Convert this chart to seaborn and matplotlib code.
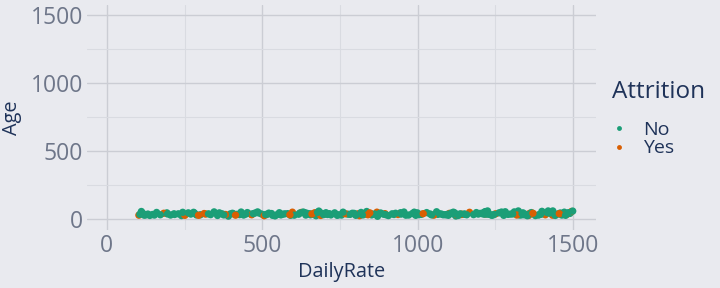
import matplotlib
matplotlib.use("Agg")
import matplotlib.pyplot as plt
from matplotlib.lines import Line2D
from matplotlib.ticker import FixedLocator
import seaborn as sns
import pandas as pd

daily_rate = [
    1102, 279, 1373, 1392, 591, 1005, 1324, 1358, 216, 1299, 809, 153, 670, 1346, 103, 1389,
    334, 1123, 1219, 371, 673, 1218, 419, 391, 699, 1282, 1125, 691, 477, 705, 924, 1459,
    125, 895, 813, 1273, 869, 890, 852, 1141, 464, 1240, 1357, 994, 721, 1360, 1065, 408,
    1211, 1229, 626, 1434, 1488, 1097, 1443, 515, 853, 1142, 655, 1115, 427, 653, 989, 1435,
    1223, 836, 1195, 1339, 664, 318, 1225, 1328, 1082, 548, 132, 746, 776, 193, 397, 945,
    852, 1214, 111, 573, 1153, 1400, 541, 432, 288, 669, 530, 632, 1334, 638, 1093, 1217,
    1353, 120, 682, 489, 807, 827, 871, 665, 1040, 1420, 1115, 240,
    147, 183, 205, 230, 251, 262, 301, 313, 345, 356, 382, 440, 452, 466, 498, 506,
    521, 560, 582, 597, 603, 617, 645, 688, 710, 733, 755, 768, 790, 801, 818, 840,
    862, 881, 906, 918, 937, 956, 971, 983, 1012, 1029, 1052, 1070, 1089, 1108, 1131, 1150,
    1167, 1180, 1201, 1236, 1251, 1262, 1277, 1291, 1311, 1319, 1336, 1349, 1366, 1379, 1402, 1411,
    1423, 1450, 1464, 1472, 1480, 1490, 1495, 1499,
    106, 116, 138, 160, 172, 195, 218, 244, 270, 282, 295, 327, 362, 376, 404, 414,
    447, 471, 485, 511, 533, 555, 566, 589, 621, 640, 660, 678, 697, 716, 741, 760,
    783, 796, 822, 846, 875, 898, 929, 947, 962, 999, 1018, 1045, 1061, 1077, 1099, 1120,
    1137, 1158, 1189, 1207, 1246, 1270, 1306, 1343, 1371, 1396, 1416, 1441, 1456, 1476, 1485,
]
age = [
    41, 49, 37, 33, 27, 32, 59, 30, 38, 36, 35, 29, 31, 34, 28, 29,
    32, 22, 53, 38, 24, 36, 34, 21, 34, 53, 32, 42, 44, 46, 33, 44,
    30, 39, 24, 43, 50, 35, 36, 33, 35, 27, 26, 27, 30, 41, 34, 37,
    46, 35, 48, 28, 44, 35, 26, 33, 35, 35, 31, 37, 32, 38, 50, 59,
    36, 55, 36, 45, 35, 36, 59, 29, 31, 32, 36, 31, 35, 45, 37, 46,
    30, 35, 55, 38, 34, 56, 23, 51, 30, 46, 40, 51, 30, 46, 32, 54,
    24, 28, 58, 44, 37, 32, 20, 34, 37, 59, 50, 25,
    33, 42, 29, 38, 27, 45, 31, 40, 52, 26, 33, 29, 47, 31, 36, 24,
    43, 30, 39, 50, 28, 35, 41, 26, 33, 45, 29, 38, 42, 27, 48, 31,
    36, 44, 25, 38, 33, 51, 29, 40, 34, 47, 28, 39, 31, 43, 26, 37,
    49, 32, 41, 30, 38, 45, 27, 34, 52, 29, 40, 33, 47, 25, 38, 31,
    43, 36, 29, 50, 33, 41, 55, 58,
    34, 41, 26, 48, 31, 37, 33, 49, 36, 43, 27, 38, 45, 30, 42, 28,
    36, 39, 52, 33, 27, 46, 35, 31, 44, 29, 37, 48, 32, 39, 27, 50,
    34, 41, 30, 45, 37, 31, 42, 36, 28, 45, 39, 30, 53, 36, 27, 44,
    38, 31, 47, 39, 33, 51, 37, 31, 42, 35, 48, 32, 39, 27, 46,
]
attrition = [
    "Yes", "No", "Yes", "No", "No", "No", "No", "No", "No", "No", "No", "No", "No", "No", "Yes", "No",
    "No", "No", "No", "No", "No", "Yes", "No", "No", "Yes", "No", "Yes", "No", "No", "No", "No", "No",
    "No", "Yes", "Yes", "No", "Yes", "No", "No", "Yes", "No", "No", "Yes", "No", "No", "Yes", "No", "No",
    "No", "No", "Yes", "Yes", "No", "No", "No", "No", "No", "Yes", "No", "No", "No", "No", "No", "No",
    "No", "No", "No", "No", "No", "Yes", "No", "No", "No", "No", "No", "No", "No", "No", "No", "No",
    "No", "No", "No", "No", "No", "No", "No", "No", "No", "Yes", "No", "No", "No", "No", "No", "No",
    "No", "No", "No", "No", "Yes", "No", "No", "No", "No", "No", "No", "No",
    "No", "Yes", "No", "No", "Yes", "No", "No", "Yes", "No", "No", "Yes", "No", "No", "Yes", "No", "Yes",
    "No", "No", "No", "Yes", "No", "No", "No", "Yes", "No", "No", "No", "Yes", "No", "No", "No", "Yes",
    "No", "No", "No", "No", "Yes", "No", "No", "No", "No", "No", "Yes", "No", "No", "No", "No", "No",
    "Yes", "No", "No", "No", "Yes", "No", "No", "No", "No", "Yes", "No", "No", "No", "No", "No", "Yes",
    "No", "No", "No", "No", "Yes", "No", "Yes", "No",
    "No", "No", "No", "No", "No", "No", "No", "No", "No", "No", "Yes", "No", "No", "No", "No", "Yes",
    "No", "No", "No", "No", "No", "No", "No", "Yes", "No", "No", "Yes", "No", "No", "No", "No", "No",
    "No", "No", "No", "Yes", "No", "No", "No", "No", "No", "No", "Yes", "No", "No", "No", "No", "No",
    "No", "No", "No", "No", "No", "No", "No", "No", "Yes", "No", "No", "No", "Yes", "No", "No",
]
categories = ["No", "Yes"]
colors = ["#1b9e77", "#d95f02"]
legend_title = "Attrition"

df = pd.DataFrame({"DailyRate": daily_rate, "Age": age, "Attrition": attrition})

BG = "#e9eaef"
TICK_C = "#6e7689"
TITLE_C = "#1f3359"

sns.set_theme(style="darkgrid")
plt.rcParams["font.family"] = ["Open Sans", "DejaVu Sans"]

fig = plt.figure(figsize=(7.2, 2.88), dpi=100)
fig.patch.set_facecolor(BG)
ax = fig.add_axes([87 / 720, 1 - 230 / 288, (596 - 87) / 720, (230 - 5) / 288])
ax.set_facecolor(BG)

sns.scatterplot(data=df, x="DailyRate", y="Age", hue="Attrition", hue_order=categories,
                palette=dict(zip(categories, colors)), s=28, linewidth=0, alpha=1.0,
                legend=False, ax=ax, zorder=3)

ax.set_xlim(-64, 1574)
ax.set_ylim(-81, 1573)
ax.xaxis.set_major_locator(FixedLocator([0, 500, 1000, 1500]))
ax.yaxis.set_major_locator(FixedLocator([0, 500, 1000, 1500]))
ax.xaxis.set_minor_locator(FixedLocator([250, 750, 1250]))
ax.yaxis.set_minor_locator(FixedLocator([250, 750, 1250]))
ax.grid(which="major", color="#cbcdd4", linewidth=1.0)
ax.grid(which="minor", color="#d9dbe1", linewidth=0.8)
ax.set_axisbelow(True)
for sp in ax.spines.values():
    sp.set_visible(False)
ax.tick_params(which="both", length=0, labelsize=16.5, colors=TICK_C)
ax.tick_params(axis="x", pad=3)
ax.tick_params(axis="y", pad=3)
ax.set_xlabel("DailyRate", fontsize=14.3, color=TITLE_C, labelpad=3)
ax.set_ylabel("Age", fontsize=14.3, color=TITLE_C)
ax.yaxis.set_label_coords(-0.128, 0.5)

# legend title placed separately to reproduce the wider gap
fig.text(612 / 720, 1 - 92 / 288, legend_title, fontsize=17.5, color=TITLE_C,
         ha="left", va="center")
handles = [Line2D([0], [0], marker="o", linestyle="", markersize=3.5,
                  markerfacecolor=c, markeredgewidth=0) for c in colors]
leg = fig.legend(handles, categories, loc="upper left",
                 bbox_to_anchor=(609 / 720, 1 - 121 / 288), frameon=False,
                 fontsize=14, handlelength=1.0, handletextpad=0.75,
                 labelspacing=0.02, borderaxespad=0, borderpad=0)
for t in leg.get_texts():
    t.set_color(TITLE_C)

fig.savefig("out.png", dpi=100, facecolor=BG)
